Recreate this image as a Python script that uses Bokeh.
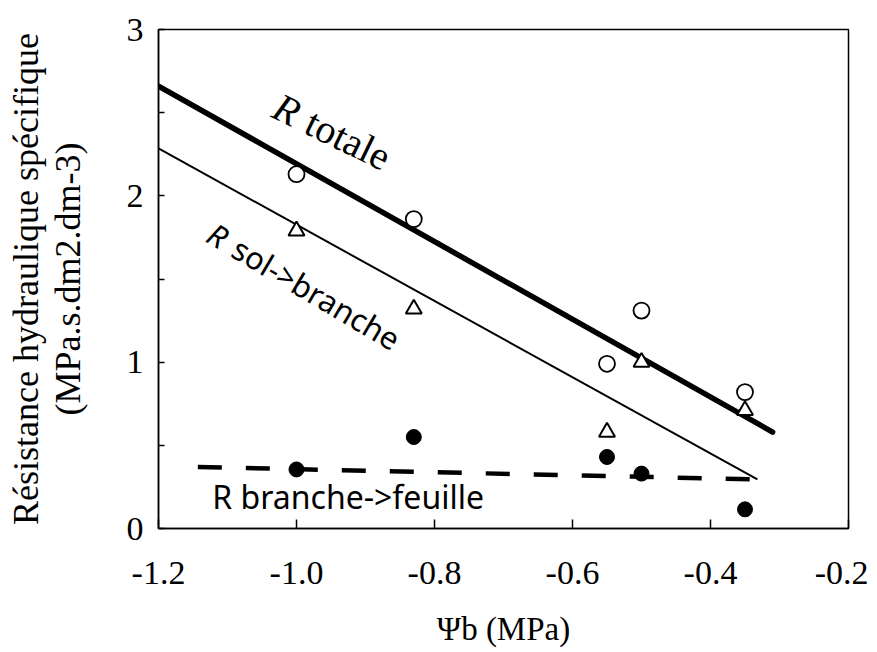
import math
from bokeh.plotting import figure
from bokeh.models import FixedTicker, Label, Range1d
from bokeh.embed import file_html
from bokeh.resources import INLINE

# ---- data ----
psi_b = [-1.0, -0.83, -0.55, -0.50, -0.35]
r_totale = [2.13, 1.86, 0.99, 1.31, 0.82]
r_sol_branche = [1.79, 1.32, 0.58, 1.00, 0.71]
r_branche_feuille = [0.355, 0.55, 0.43, 0.33, 0.115]

# fitted lines (end points)
fit_totale_x = [-1.2, -0.31]
fit_totale_y = [2.66, 0.58]
fit_sol_x = [-1.2, -0.332]
fit_sol_y = [2.285, 0.295]
fit_bf_x = [-1.143, -0.332]
fit_bf_y = [0.37, 0.295]

x_ticks = [-1.2, -1.0, -0.8, -0.6, -0.4, -0.2]
y_ticks = [0, 1, 2, 3]
y_minor = [0.5, 1.5, 2.5]

SERIF = "Liberation Serif"
SANS = "Noto Sans"

p = figure(frame_width=690, frame_height=499,
           min_border_left=158, min_border_right=20,
           min_border_top=29, min_border_bottom=115,
           x_range=Range1d(-1.2, -0.2), y_range=Range1d(0, 3),
           output_backend="svg", toolbar_location=None,
           background_fill_color="white", border_fill_color="white")
p.grid.visible = False
p.outline_line_color = "black"
p.outline_line_width = 1.5

# axes
p.xaxis.ticker = FixedTicker(ticks=x_ticks, minor_ticks=[])
p.yaxis.ticker = FixedTicker(ticks=y_ticks, minor_ticks=y_minor)
p.xaxis.major_label_overrides = {v: f"{v:.1f}" for v in x_ticks}
for ax in (p.xaxis[0], p.yaxis[0]):
    ax.axis_line_color = "black"
    ax.axis_line_width = 1.5
    ax.major_tick_out = 0
    ax.minor_tick_out = 0
    ax.major_tick_line_width = 1.5
    ax.minor_tick_line_width = 1.5
    ax.major_label_text_font = SERIF
    ax.major_label_text_font_size = "34px"
    ax.major_label_text_color = "black"
    ax.axis_label_text_font = SERIF
    ax.axis_label_text_font_style = "normal"
    ax.axis_label_text_color = "black"
p.xaxis.major_tick_in = 9
p.xaxis.minor_tick_in = 0
p.yaxis.major_tick_in = 6
p.yaxis.minor_tick_in = 6
p.xaxis.major_label_standoff = 33
p.yaxis.major_label_standoff = 15
p.xaxis.axis_label = "\u03a8b (MPa)"
p.xaxis.axis_label_text_font_size = "33px"
p.xaxis.axis_label_standoff = 24
p.yaxis.axis_label = "R\u00e9sistance hydraulique sp\u00e9cifique\n(MPa.s.dm2.dm-3)"
p.yaxis.axis_label_text_font_size = "36px"
p.yaxis.axis_label_standoff = 36
p.yaxis.axis_label_text_line_height = 1.05

# regression lines
p.line(fit_totale_x, fit_totale_y, line_color="black", line_width=5.5, line_cap="round")
p.line(fit_sol_x, fit_sol_y, line_color="black", line_width=2)
p.line(fit_bf_x, fit_bf_y, line_color="black", line_width=4.5, line_dash="24 24")

# points
p.scatter(psi_b, r_totale, marker="circle", size=16, fill_color="white",
          line_color="black", line_width=1.8)
p.scatter(psi_b, r_sol_branche, marker="triangle", size=16, fill_color="white",
          line_color="black", line_width=2)
p.scatter(psi_b, r_branche_feuille, marker="circle", size=15, fill_color="black",
          line_color="black", line_width=1)

# annotations
def rotated_label(x, y, head, tail, angle_deg, font, size, head_w):
    a = math.radians(angle_deg)
    p.add_layout(Label(x=x, y=y, text=head, angle=a, text_font=font,
                       text_font_size=size, text_font_style="italic",
                       text_align="left", text_baseline="alphabetic", text_color="black"))
    p.add_layout(Label(x=x, y=y, text=tail, angle=a, text_font=font,
                       text_font_size=size, text_align="left",
                       x_offset=head_w * math.cos(a), y_offset=head_w * math.sin(a),
                       text_baseline="alphabetic", text_color="black"))

rotated_label(-1.03, 2.55, "R", "totale", -26, SERIF, "40px", 36)
rotated_label(-1.125, 1.79, "R", "sol->branche", -30.5, SANS, "31px", 29)
p.add_layout(Label(x=-1.122, y=0.195, text="R branche->feuille", text_font=SANS,
                   text_font_size="32px", text_align="left",
                   text_baseline="alphabetic", text_color="black"))

open("out.html", "w").write(file_html(p, INLINE))
